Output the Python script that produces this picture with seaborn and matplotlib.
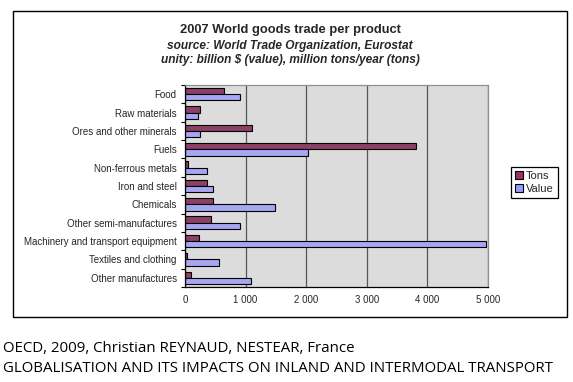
import pandas as pd
import seaborn as sns
import matplotlib.pyplot as plt
from matplotlib.patches import Rectangle, Patch

# data
products = ['Food', 'Raw materials', 'Ores and other minerals', 'Fuels',
            'Non-ferrous metals', 'Iron and steel', 'Chemicals',
            'Other semi-manufactures', 'Machinery and transport equipment',
            'Textiles and clothing', 'Other manufactures']
tons = [650, 250, 1110, 3820, 45, 360, 470, 435, 225, 40, 95]
value = [900, 220, 255, 2030, 360, 470, 1480, 915, 4960, 565, 1095]
x_ticks = [0, 1000, 2000, 3000, 4000, 5000]
x_tick_labels = ['0', '1 000', '2 000', '3 000', '4 000', '5 000']

df = pd.DataFrame({'product': products * 2,
                   'series': ['Tons'] * len(products) + ['Value'] * len(products),
                   'amount': tons + value})

sns.set_style('white')
plt.rcParams['font.family'] = ['Liberation Sans', 'DejaVu Sans']

fig = plt.figure(figsize=(5.73, 3.82), dpi=100)
ax = fig.add_axes([185 / 573, 1 - 287 / 382, 303 / 573, 202 / 382])

colors = {'Tons': '#993366', 'Value': '#9999FF'}
sns.barplot(data=df, y='product', x='amount', hue='series',
            hue_order=['Tons', 'Value'], order=products, palette=colors,
            orient='h', width=0.68, edgecolor='black', linewidth=0.8,
            legend=False, ax=ax)

ax.set_facecolor('#DCDCDC')
ax.set_xlim(0, 5000)
ax.set_ylim(len(products) - 0.5, -0.5)
ax.set_xticks(x_ticks)
ax.set_xticklabels(x_tick_labels)
ax.set_xlabel('')
ax.set_ylabel('')
ax.set_axisbelow(True)
ax.xaxis.grid(True, color='#555555', linewidth=0.9)
ax.yaxis.grid(False)

for side in ['top', 'right']:
    ax.spines[side].set_color('#909090')
    ax.spines[side].set_linewidth(0.9)
for side in ['left', 'bottom']:
    ax.spines[side].set_color('black')
    ax.spines[side].set_linewidth(0.9)

ax.tick_params(axis='x', direction='out', length=3, width=0.8, color='black',
               labelsize=7, pad=3)
# excel style category ticks: marks between categories, labels at centres
ax.tick_params(axis='y', which='major', length=0, labelsize=7, pad=6)
ax.set_yticks([i - 0.5 for i in range(len(products) + 1)], minor=True)
ax.tick_params(axis='y', which='minor', direction='out', length=3, width=0.8,
               color='black', left=True)

# titles
fig.text(0.506, 1 - 30 / 382, '2007 World goods trade per product',
         ha='center', va='center', fontsize=9.3, fontweight='bold')
fig.text(0.506, 1 - 45.5 / 382, 'source: World Trade Organization, Eurostat',
         ha='center', va='center', fontsize=8.6, fontweight='bold', style='italic')
fig.text(0.506, 1 - 60 / 382, 'unity: billion $ (value), million tons/year (tons)',
         ha='center', va='center', fontsize=8.6, fontweight='bold', style='italic')

# legend
handles = [Patch(facecolor=colors[s], edgecolor='black', linewidth=0.8, label=s)
           for s in ['Tons', 'Value']]
leg = fig.legend(handles=handles, loc='upper left',
                 bbox_to_anchor=(511 / 573, 1 - 167 / 382), fontsize=8,
                 handlelength=0.75, handleheight=0.75, handletextpad=0.25,
                 borderpad=0.35, labelspacing=0.3, fancybox=False,
                 framealpha=1, edgecolor='black', borderaxespad=0)
leg.get_frame().set_linewidth(0.9)

# outer chart frame
fig.patches.append(Rectangle((13 / 573, 1 - 317 / 382), 554 / 573, 306 / 382,
                             transform=fig.transFigure, fill=False,
                             edgecolor='black', linewidth=1.0))

# footer
fig.text(3 / 573, 1 - 349 / 382, 'OECD, 2009, Christian REYNAUD, NESTEAR, France',
         ha='left', va='center', fontsize=10.8, color='black',
         family=['Open Sans', 'DejaVu Sans'])
fig.text(3 / 573, 1 - 369 / 382,
         'GLOBALISATION AND ITS IMPACTS ON INLAND AND INTERMODAL TRANSPORT',
         ha='left', va='center', fontsize=10.8, color='black',
         family=['Open Sans', 'DejaVu Sans'])

fig.savefig('out.png', dpi=100, facecolor='white')
